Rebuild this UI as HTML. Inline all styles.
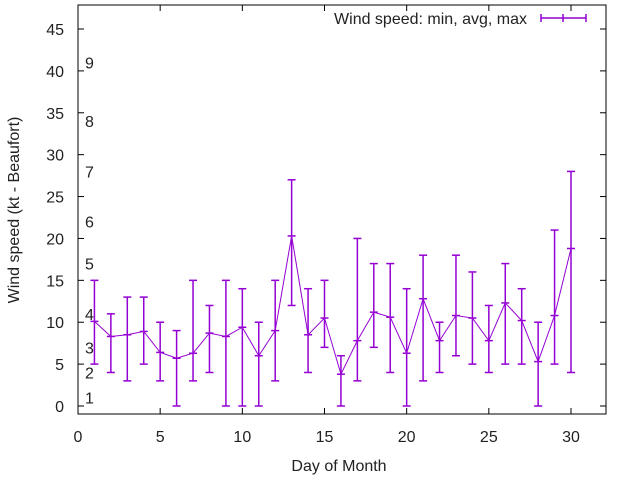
<!DOCTYPE html>
<html><head><meta charset="utf-8"><style>
body{margin:0;background:#fff}
svg text{font-family:"Liberation Sans",sans-serif;font-size:16px;fill:#222}
</style></head><body>
<svg id="c" width="640" height="480" xmlns="http://www.w3.org/2000/svg"></svg>
<script>
const days=[1,2,3,4,5,6,7,8,9,10,11,12,13,14,15,16,17,18,19,20,21,22,23,24,25,26,27,28,29,30];
const avgs=[10.1,8.3,8.5,8.9,6.4,5.7,6.3,8.7,8.3,9.4,6.0,9.0,20.3,8.5,10.5,3.8,7.8,11.2,10.6,6.3,12.8,7.8,10.8,10.5,7.8,12.3,10.2,5.3,10.8,18.8];
const mins=[5,4,3,5,3,0,3,4,0,0,0,3,12,4,7,0,3,7,4,0,3,4,6,5,4,5,5,0,5,4];
const maxs=[15,11,13,13,10,9,15,12,15,14,10,15,27,14,15,6,20,17,17,14,18,10,18,16,12,17,14,10,21,28];
const xTicks=[0,5,10,15,20,25,30];
const yTicks=[0,5,10,15,20,25,30,35,40,45];
const beaufort=["1","2","3","4","5","6","7","8","9"];
const beaufortKt=[1,4,7,11,17,22,28,34,41];
const svg=document.getElementById('c');const NS='http://www.w3.org/2000/svg';
const L=78,R=606,T=5,B=414;
const X=v=>78+v*(571-78)/30;
const Y=v=>406-v*(406-29)/45;
function mk(t,a,p){const e=document.createElementNS(NS,t);for(const k in a)e.setAttribute(k,a[k]);(p||svg).appendChild(e);return e;}
const frame=mk('rect',{x:L,y:T,width:R-L,height:B-T,fill:'none',stroke:'#000','stroke-width':1});


xTicks.forEach(v=>{const x=X(v);
mk('line',{x1:x,y1:B,x2:x,y2:B-6,stroke:'#000'});mk('line',{x1:x,y1:T,x2:x,y2:T+6,stroke:'#000'});
const t=mk('text',{x:x,y:B+28,'text-anchor':'middle'});t.textContent=v;

});
yTicks.forEach(v=>{const y=Y(v);
mk('line',{x1:L,y1:y,x2:L+6,y2:y,stroke:'#000'});mk('line',{x1:R,y1:y,x2:R-6,y2:y,stroke:'#000'});
const t=mk('text',{x:L-14,y:y+6,'text-anchor':'end'});t.textContent=v;

});
beaufort.forEach((b,i)=>{const t=mk('text',{x:85,y:Y(beaufortKt[i])+6});t.textContent=b;

});
const col='#9400d3';
const pts=days.map((d,i)=>X(d)+','+Y(avgs[i])).join(' ');
const line=mk('polyline',{points:pts,fill:'none',stroke:col,'stroke-width':1});


days.forEach((d,i)=>{const g=mk('g',{stroke:col,'stroke-width':1.5});


const x=X(d);
mk('line',{x1:x,y1:Y(mins[i]),x2:x,y2:Y(maxs[i])},g);
mk('line',{x1:x-4,y1:Y(mins[i]),x2:x+4,y2:Y(mins[i])},g);
mk('line',{x1:x-4,y1:Y(maxs[i]),x2:x+4,y2:Y(maxs[i])},g);
mk('line',{x1:x-4,y1:Y(avgs[i]),x2:x+4,y2:Y(avgs[i])},g);});
const xt=mk('text',{x:339,y:471,'text-anchor':'middle'});xt.textContent='Day of Month';


const yt=mk('text',{x:0,y:0,'text-anchor':'middle',transform:'translate(19,210) rotate(-90)'});yt.textContent='Wind speed (kt - Beaufort)';


const lg=mk('g',{});


const lt=mk('text',{x:527,y:24,'text-anchor':'end'},lg);lt.textContent='Wind speed: min, avg, max';
mk('line',{x1:541,y1:18,x2:586,y2:18,stroke:col,'stroke-width':1.5},lg);
mk('line',{x1:541,y1:14,x2:541,y2:22,stroke:col,'stroke-width':1.5},lg);
mk('line',{x1:586,y1:14,x2:586,y2:22,stroke:col,'stroke-width':1.5},lg);
mk('line',{x1:563,y1:14,x2:563,y2:22,stroke:col,'stroke-width':1.5},lg);
</script></body></html>
